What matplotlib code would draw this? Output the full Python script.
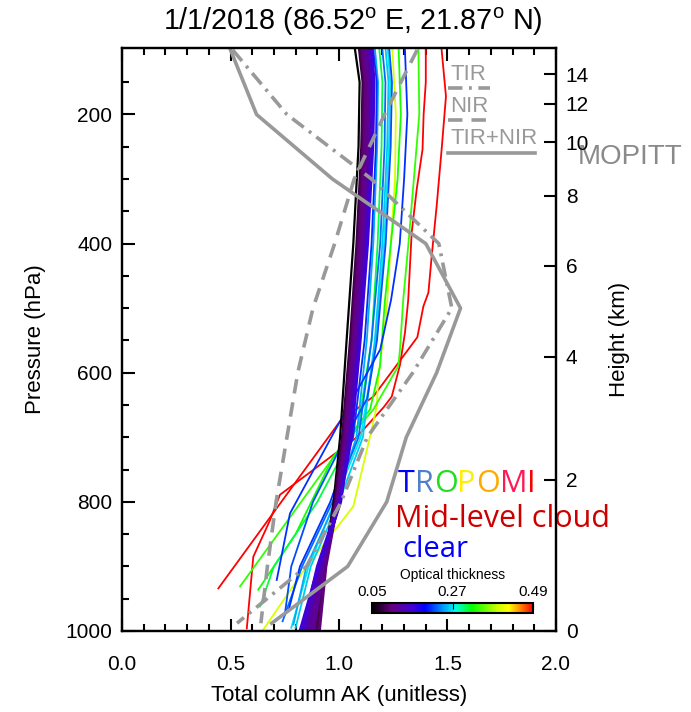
import matplotlib
matplotlib.use("Agg")
import matplotlib.pyplot as plt
import numpy as np
from matplotlib.colors import LinearSegmentedColormap, Normalize
from matplotlib.lines import Line2D

plt.rcParams['font.family'] = ['Liberation Sans', 'DejaVu Sans']

# MOPITT averaging kernels (grey)
mop_p = [100, 200, 300, 400, 500, 600, 700, 800, 900, 988]
mop_tir = [0.51, 0.76, 1.15, 1.46, 1.52, 1.34, 1.13, 1.01, 0.85, 0.53]
mop_nir = [1.36, 1.21, 1.07, 0.98, 0.88, 0.81, 0.76, 0.71, 0.67, 0.64]
mop_joint = [0.50, 0.62, 0.97, 1.40, 1.56, 1.45, 1.31, 1.22, 1.04, 0.69]

# TROPOMI clear-sky profiles (optical thickness, x at pressure levels)
clear_p = [100, 150, 250, 400, 550, 700, 800, 900, 1000]
clear_ot = [0.05, 0.08, 0.09, 0.10, 0.10, 0.11, 0.12, 0.12, 0.13, 0.14, 0.15, 0.16]
clear_x = [
    [1.074, 1.095, 1.090, 1.066, 1.035, 1.005, 0.975, 0.930, 0.900],
    [1.094, 1.110, 1.104, 1.082, 1.052, 1.015, 0.980, 0.925, 0.895],
    [1.100, 1.116, 1.110, 1.088, 1.058, 1.020, 0.985, 0.935, 0.905],
    [1.106, 1.122, 1.116, 1.094, 1.063, 1.025, 0.990, 0.930, 0.885],
    [1.112, 1.128, 1.122, 1.100, 1.068, 1.030, 0.995, 0.940, 0.910],
    [1.118, 1.134, 1.128, 1.105, 1.072, 1.034, 0.990, 0.920, 0.870],
    [1.124, 1.140, 1.134, 1.110, 1.077, 1.038, 0.998, 0.930, 0.880],
    [1.130, 1.146, 1.140, 1.115, 1.082, 1.042, 1.000, 0.915, 0.860],
    [1.136, 1.150, 1.144, 1.120, 1.087, 1.046, 1.004, 0.920, 0.850],
    [1.142, 1.154, 1.148, 1.124, 1.091, 1.050, 1.008, 0.910, 0.840],
    [1.148, 1.158, 1.152, 1.128, 1.095, 1.054, 1.000, 0.900, 0.830],
    [1.152, 1.162, 1.156, 1.132, 1.098, 1.058, 1.005, 0.905, 0.820],
]

# TROPOMI mid-level cloud profiles
cloud_ot = [0.49, 0.49, 0.40, 0.34, 0.33, 0.31, 0.27, 0.26, 0.25, 0.23, 0.22, 0.21, 0.21]
cloud_p = [
    [100, 172, 254, 342, 420, 476, 497, 545, 637, 675, 934],
    [100, 150, 200, 254, 316, 383, 487, 538, 588, 637, 653, 701, 789, 830, 885, 996],
    [100, 200, 300, 500, 611, 652, 699, 807, 900, 998],
    [100, 200, 300, 400, 487, 564, 590, 657, 724, 931],
    [100, 200, 300, 487, 590, 657, 730, 850, 936],
    [100, 150, 250, 400, 550, 680, 800, 900, 962],
    [100, 150, 250, 400, 550, 700, 800, 900, 995],
    [100, 150, 250, 400, 550, 700, 800, 900, 995],
    [100, 150, 250, 400, 550, 700, 800, 900, 990],
    [100, 150, 250, 400, 550, 700, 800, 900, 985],
    [100, 150, 250, 400, 550, 640, 700, 800, 900, 975],
    [100, 150, 250, 400, 550, 700, 800, 900, 965],
    [100, 200, 300, 400, 487, 564, 678, 818, 921],
]
cloud_x = [
    [1.473, 1.493, 1.473, 1.450, 1.427, 1.412, 1.389, 1.361, 1.158, 1.005, 0.444],
    [1.400, 1.400, 1.390, 1.385, 1.358, 1.335, 1.319, 1.304, 1.281, 1.243, 1.207, 1.078, 0.728, 0.680, 0.605, 0.575],
    [1.246, 1.262, 1.258, 1.220, 1.180, 1.174, 1.143, 1.066, 0.851, 0.651],
    [1.366, 1.370, 1.345, 1.320, 1.296, 1.281, 1.273, 1.158, 0.989, 0.544],
    [1.275, 1.285, 1.270, 1.212, 1.189, 1.143, 0.974, 0.800, 0.628],
    [1.186, 1.200, 1.196, 1.178, 1.150, 1.090, 0.900, 0.700, 0.636],
    [1.225, 1.236, 1.230, 1.208, 1.170, 1.100, 0.980, 0.860, 0.780],
    [1.215, 1.228, 1.222, 1.200, 1.165, 1.110, 1.000, 0.870, 0.800],
    [1.166, 1.180, 1.176, 1.158, 1.128, 1.080, 0.985, 0.850, 0.790],
    [1.200, 1.214, 1.210, 1.190, 1.150, 1.090, 0.970, 0.830, 0.740],
    [1.232, 1.244, 1.238, 1.215, 1.175, 1.130, 1.030, 0.880, 0.780, 0.750],
    [1.158, 1.174, 1.170, 1.150, 1.118, 1.065, 0.960, 0.820, 0.770],
    [1.304, 1.315, 1.300, 1.280, 1.240, 1.190, 1.000, 0.774, 0.713],
]

height_km = [0, 2, 4, 6, 8, 10, 12, 14]
height_p = [1000, 766, 575, 434, 326, 243, 183, 138]

ot_ticks = [0.05, 0.27, 0.49]

# IDL-like rainbow starting from black
cmap = LinearSegmentedColormap.from_list('rainbow_black', [
    (0.00, (0, 0, 0)), (0.12, (0.40, 0, 0.50)), (0.25, (0.25, 0, 0.85)),
    (0.33, (0, 0, 1)), (0.44, (0, 0.6, 1)), (0.52, (0, 1, 0.9)),
    (0.62, (0, 1, 0)), (0.78, (0.8, 1, 0)), (0.85, (1, 1, 0)),
    (0.92, (1, 0.55, 0)), (1.00, (1, 0, 0))])
norm = Normalize(vmin=0.05, vmax=0.49)
grey = '#999999'

fig = plt.figure(figsize=(6.91, 7.12), dpi=100)
ax = fig.add_axes([0.1766, 0.1138, 0.628, 0.8188])

for ot, p, x in zip(cloud_ot, cloud_p, cloud_x):
    ax.plot(x, p, color=cmap(norm(ot)), lw=1.3)
for ot, x in zip(clear_ot, clear_x):
    ax.plot(x, clear_p, color=cmap(norm(ot)), lw=2.0 if ot > 0.05 else 1.6)

ax.plot(mop_tir, mop_p, color=grey, lw=2.6, dashes=(4, 1.8, 0.8, 1.8))
ax.plot(mop_nir, mop_p, color=grey, lw=2.6, dashes=(4, 2.5))
ax.plot(mop_joint, mop_p, color=grey, lw=2.6)

ax.set_xlim(0, 2.0)
ax.set_ylim(1000, 97)
ax.set_xticks(np.arange(0, 2.01, 0.5))
ax.set_xticks(np.arange(0, 2.01, 0.1), minor=True)
ax.set_yticks([200, 400, 600, 800, 1000])
ax.set_yticks(np.arange(150, 1000, 50), minor=True)
ax.xaxis.set_major_formatter(matplotlib.ticker.FormatStrFormatter('%.1f'))
ax.tick_params(axis='x', which='both', direction='in', top=True, labelsize=15, pad=17)
ax.tick_params(axis='x', which='major', length=9, width=1.5)
ax.tick_params(axis='x', which='minor', length=5, width=1.5)
ax.tick_params(axis='y', which='both', direction='in', right=False, labelsize=15, pad=7)
ax.tick_params(axis='y', which='major', length=9, width=1.5)
ax.tick_params(axis='y', which='minor', length=5, width=1.5)
for s in ax.spines.values():
    s.set_linewidth(1.6)
ax.set_xlabel('Total column AK (unitless)', fontsize=16, labelpad=8)
ax.set_ylabel('Pressure (hPa)', fontsize=16, labelpad=14)

ax2 = ax.twinx()
ax2.set_ylim(ax.get_ylim())
ax2.set_yticks(height_p)
ax2.set_yticklabels([str(h) for h in height_km])
ax2.tick_params(axis='y', direction='in', length=9, width=1.5, labelsize=15, pad=7)
ax2.set_ylabel('Height (km)', fontsize=16, labelpad=14)
for s in ax2.spines.values():
    s.set_linewidth(1.6)

# MOPITT legend
leg = [('TIR', 0.955, 0.931, 0.848, (4, 1.8, 0.8, 1.8)),
       ('NIR', 0.899, 0.877, 0.853, (4, 2.5)),
       ('TIR+NIR', 0.844, 0.820, 0.952, None)]
for lab, ty, ly, x1, ds in leg:
    ax.text(0.756, ty, lab, transform=ax.transAxes, color=grey, fontsize=16,
            ha='left', va='center')
    ln = Line2D([0.751, x1], [ly, ly], transform=ax.transAxes, color=grey, lw=2.6)
    if ds is not None:
        ln.set_dashes(ds)
    ax.add_line(ln)
ax.text(1.051, 0.813, 'MOPITT', transform=ax.transAxes, color='#8a8a8a',
        fontsize=20, ha='left', va='center', family='Liberation Sans')

# TROPOMI coloured title
letters = ['T', 'R', 'O', 'P', 'O', 'M', 'I']
letter_colors = ['#0000ff', '#4f7fc8', '#22dd22', '#ffee00', '#ffaa00', '#ff1a55', '#ff0000']
fig.canvas.draw()
renderer = fig.canvas.get_renderer()
xpos = 0.636
for ch, c in zip(letters, letter_colors):
    t = ax.text(xpos, 0.252, ch, transform=ax.transAxes, color=c, fontsize=22,
                family='Open Sans', ha='left', va='center')
    bb = t.get_window_extent(renderer=renderer)
    xpos = ax.transAxes.inverted().transform((bb.x1, bb.y0))[0]
ax.text(0.629, 0.192, 'Mid-level cloud', transform=ax.transAxes, color='#cc0000',
        fontsize=22, family='Open Sans', ha='left', va='center')
ax.text(0.645, 0.139, 'clear', transform=ax.transAxes, color='#0000ff',
        fontsize=21, family='Open Sans', ha='left', va='center')

# colour bar
cax = fig.add_axes([0.5384, 0.139, 0.233, 0.014])
cb = fig.colorbar(matplotlib.cm.ScalarMappable(norm=norm, cmap=cmap), cax=cax,
                  orientation='horizontal', ticks=ot_ticks)
cb.ax.xaxis.set_ticks_position('top')
cb.ax.xaxis.set_label_position('top')
cb.ax.set_xticklabels(['0.05', '0.27', '0.49'])
cb.ax.tick_params(direction='in', length=4, labelsize=11, pad=3)
cb.set_label('Optical thickness', fontsize=10, labelpad=4)
cb.outline.set_linewidth(1.5)

fig.text(0.51, 0.969, '1/1/2018 (86.52$^\\mathregular{o}$ E, 21.87$^\\mathregular{o}$ N)',
         ha='center', va='center', fontsize=20.7)

fig.savefig('out.png', dpi=100)
